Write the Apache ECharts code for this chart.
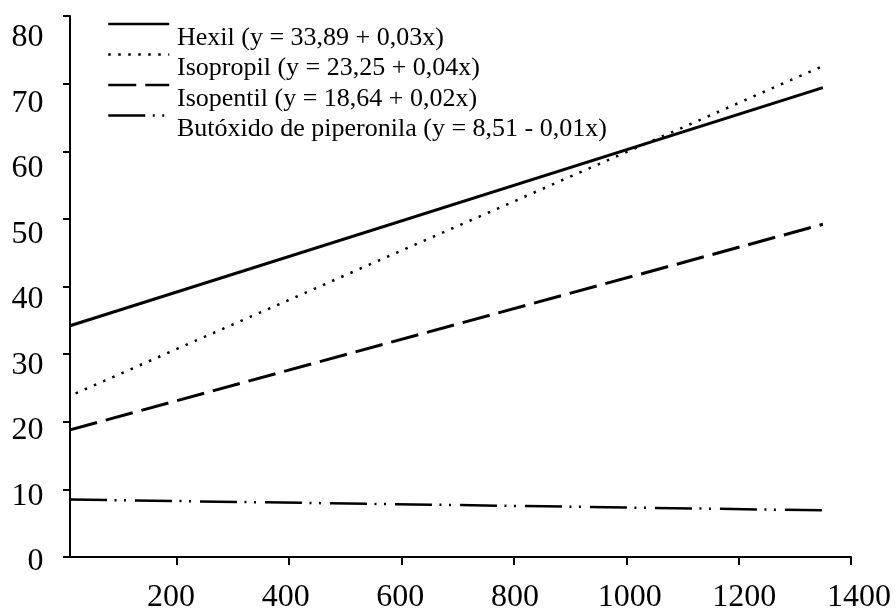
<!DOCTYPE html>
<html><head><meta charset="utf-8">
<script src="https://cdn.jsdelivr.net/npm/echarts@6/dist/echarts.min.js"></script>
<style>html,body{margin:0;padding:0;background:#fff}#c{width:896px;height:614px}</style>
</head><body><div id="c"></div>
<script>
// ---- data ----
const seriesNames = [
  'Hexil (y = 33,89 + 0,03x)',
  'Isopropil (y = 23,25 + 0,04x)',
  'Isopentil (y = 18,64 + 0,02x)',
  'Butóxido de piperonila (y = 8,51 - 0,01x)'
];
const hexilX = [10, 1350];
const hexilY = [34.2, 69.4];
const isopropilX = [20, 1350];
const isopropilY = [24.2, 72.6];
const isopentilX = [10, 1350];
const isopentilY = [18.8, 49.2];
const butoxidoX = [10, 1350];
const butoxidoY = [8.5, 6.9];
const xTickLabels = [200, 400, 600, 800, 1000, 1200, 1400];
const yTickLabels = [0, 10, 20, 30, 40, 50, 60, 70, 80];

const FONT = 'Liberation Serif';
function pts(xs, ys) { return xs.map((x, i) => [x, ys[i]]); }

const lineStyles = [
  { color: '#000', width: 3, type: 'solid' },
  { color: '#000', width: 2.5, type: [2.5, 7.5] },
  { color: '#000', width: 3, type: [28, 9] },
  { color: '#000', width: 2.5, type: [37, 7.5, 2, 7.5, 2, 9] }
];
const dataSets = [pts(hexilX, hexilY), pts(isopropilX, isopropilY), pts(isopentilX, isopentilY), pts(butoxidoX, butoxidoY)];

const chart = echarts.init(document.getElementById('c'), null, { renderer: 'canvas' });
const option = {
  animation: false,
  backgroundColor: '#fff',
  grid: [
    { left: 70, top: 16, width: 781, height: 541 },
    { left: 56.4, top: 38, width: 802.6, height: 524.6 }
  ],
  xAxis: [
    {
      gridIndex: 0, type: 'value', min: 10, max: 1400,
      axisLine: { lineStyle: { color: '#000', width: 2 } },
      axisTick: { customValues: xTickLabels, length: 8, lineStyle: { color: '#000', width: 2 } },
      axisLabel: { show: false },
      splitLine: { show: false }
    },
    {
      gridIndex: 1, type: 'value', min: 0, max: 1400,
      axisLine: { show: false }, axisTick: { show: false }, splitLine: { show: false },
      axisLabel: { customValues: xTickLabels, formatter: v => String(v), margin: 20, fontFamily: FONT, fontSize: 32, color: '#000' }
    }
  ],
  yAxis: [
    {
      gridIndex: 0, type: 'value', min: 0, max: 80, interval: 10,
      axisLine: { show: true, lineStyle: { color: '#000', width: 2 } },
      axisTick: { show: true, length: 7, lineStyle: { color: '#000', width: 2 } },
      axisLabel: { show: false },
      splitLine: { show: false }
    },
    {
      gridIndex: 1, type: 'value', min: 0, max: 80, interval: 10,
      axisLine: { show: false }, axisTick: { show: false }, splitLine: { show: false },
      axisLabel: { customValues: yTickLabels, formatter: v => String(v), margin: 13, fontFamily: FONT, fontSize: 32, color: '#000' }
    }
  ],
  legend: [
    {
      data: seriesNames, orient: 'vertical', left: 107, top: 8.75, padding: 0, itemGap: 0,
      itemWidth: 61, itemHeight: 14,
      formatter: () => ' ',
      textStyle: { fontFamily: FONT, fontSize: 26, lineHeight: 30.5, color: '#000' },
      lineStyle: { width: 2.5 },
      itemStyle: { opacity: 0 }
    },
    {
      data: seriesNames, orient: 'vertical', left: 171, top: 22.75, padding: 0, itemGap: 0,
      itemWidth: 1, itemHeight: 14, icon: 'none',
      textStyle: { fontFamily: FONT, fontSize: 26, lineHeight: 30.5, color: '#000' }
    }
  ],
  series: seriesNames.map((name, i) => ({
    name: name,
    type: 'line',
    xAxisIndex: 0, yAxisIndex: 0,
    data: dataSets[i],
    symbol: 'none',
    showSymbol: false,
    color: '#000',
    lineStyle: lineStyles[i],
    silent: true
  }))
};
chart.setOption(option);
</script>
</body></html>
